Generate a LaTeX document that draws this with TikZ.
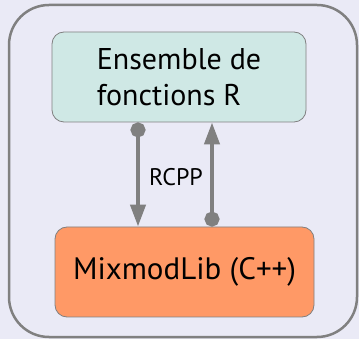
\documentclass[tikz,border=0pt]{standalone}
\usepackage{fontspec}
\setmainfont{PT Sans}
\usetikzlibrary{arrows.meta}
\definecolor{bgc}{HTML}{EAEAF6}
\definecolor{linec}{HTML}{808080}
\definecolor{topc}{HTML}{CFE8E5}
\definecolor{botc}{HTML}{FF9966}
\tikzset{
  box/.style={draw=linec, line width=0.8pt, rounded corners=12pt, inner sep=0pt},
  conn/.style={draw=linec, line width=4.2pt},
}
\begin{document}
\begin{tikzpicture}[x=1pt,y=-1pt]
\useasboundingbox[fill=bgc] (0,0) rectangle (359,339);
\draw[linec, line width=2.5pt, rounded corners=40pt] (9,5) rectangle (357,337);
\node[box, fill=topc, minimum width=254pt, minimum height=90pt, align=left,
  font=\fontsize{30}{36}\selectfont] (top) at (179,77) {Ensemble de\\fonctions R};
\node[box, fill=botc, minimum width=259pt, minimum height=90pt,
  font=\fontsize{31}{36}\selectfont] (bot) at (184.5,272) {MixmodLib (C++)};
\coordinate (l) at (138,0);
\coordinate (r) at (212,0);
\draw[conn, {Circle[length=15pt]}-{Triangle[length=22pt,width=15pt]}] (top.south -| l) -- (bot.north -| l);
\draw[conn, {Circle[length=15pt]}-{Triangle[length=22pt,width=15pt]}] (bot.north -| r) -- (top.south -| r);
\node[font=\fontsize{24}{28}\selectfont] (lab) at (176,177) {RCPP};
\end{tikzpicture}
\end{document}
